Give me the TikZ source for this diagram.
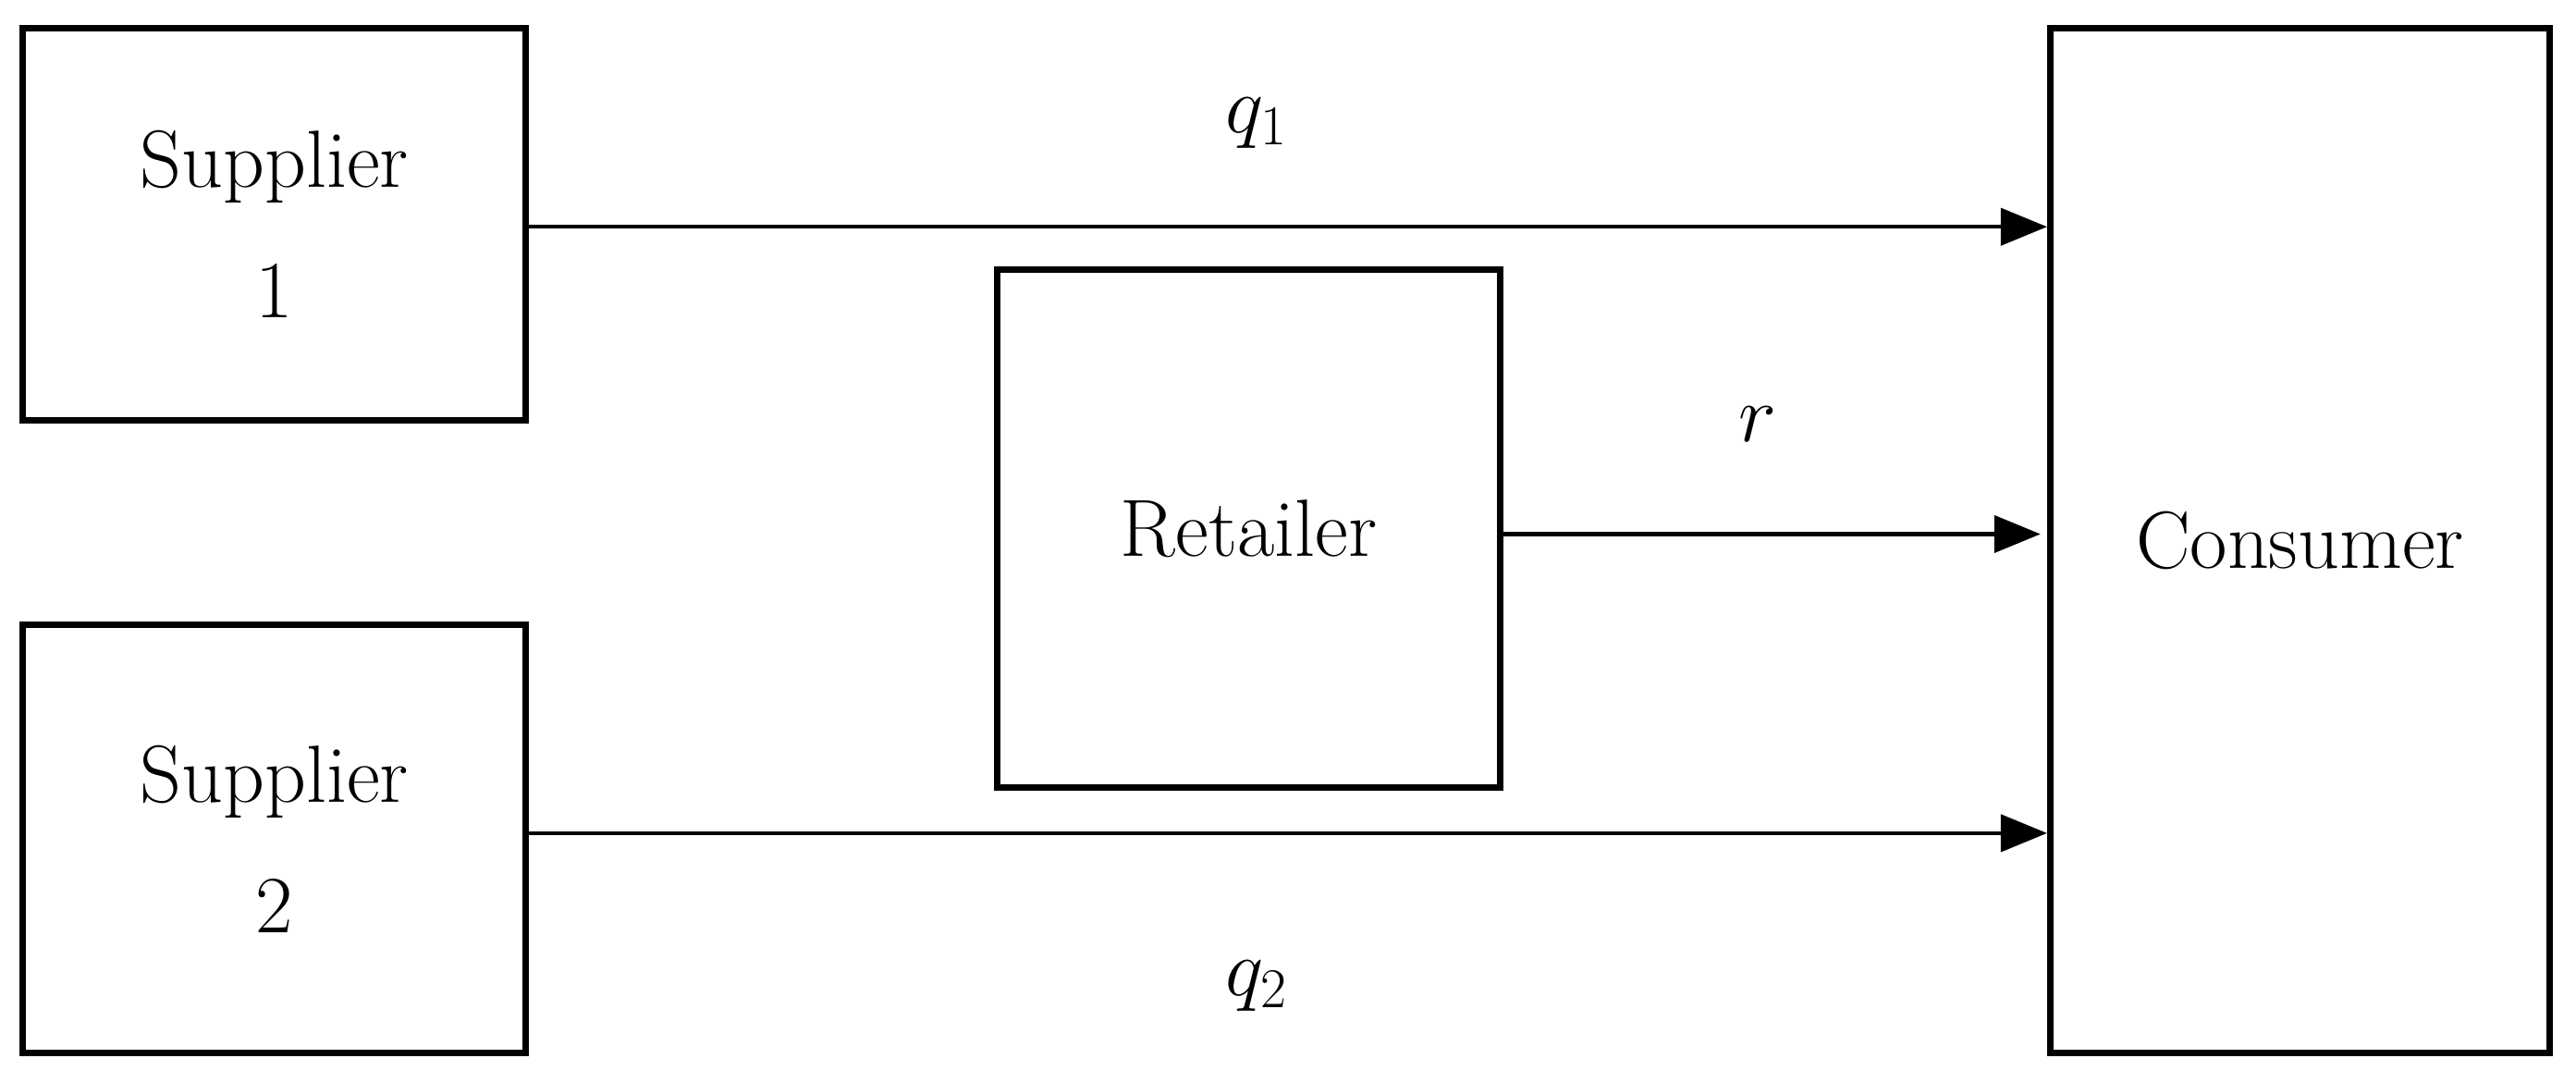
\documentclass[tikz,border=0pt]{standalone}
\usetikzlibrary{arrows.meta}
\begin{document}
\begin{tikzpicture}[x=0.01777cm,y=-0.01777cm,
  box/.style={draw,line width=2pt,inner sep=0pt,align=center,font=\fontsize{25}{40}\selectfont},
  arr/.style={line width=1.2pt,-{Triangle[length=0.5cm,width=0.4cm]}},
  lbl/.style={font=\fontsize{25}{29}\selectfont}]
\useasboundingbox (0,0) rectangle (1568,659);
\node[box,minimum width=306*0.01777cm,minimum height=239*0.01777cm] (s1) at (167,136.5) {Supplier\\1};
\node[box,minimum width=306*0.01777cm,minimum height=261*0.01777cm] (s2) at (167,510.5) {Supplier\\2};
\node[box,minimum width=306*0.01777cm,minimum height=315*0.01777cm] (r) at (760,321.5) {Retailer};
\node[box,minimum width=304*0.01777cm,minimum height=624*0.01777cm] (c) at (1400,329) {Consumer};
\coordinate (a1) at (320,138); \coordinate (b1) at (1248,138);
\coordinate (a2) at (320,507); \coordinate (b2) at (1248,507);
\coordinate (br) at (1242,325);
\draw[arr] (s1.east |- a1) -- (c.west |- b1);
\draw[arr] (s2.east |- a2) -- (c.west |- b2);
\draw[arr] (r.east |- br) -- (br);
\node[lbl] (l1) at (765,75) {$q_1$};
\node[lbl] (l2) at (1070,258) {$r$};
\node[lbl] (l3) at (765,600) {$q_2$};
\end{tikzpicture}
\end{document}
